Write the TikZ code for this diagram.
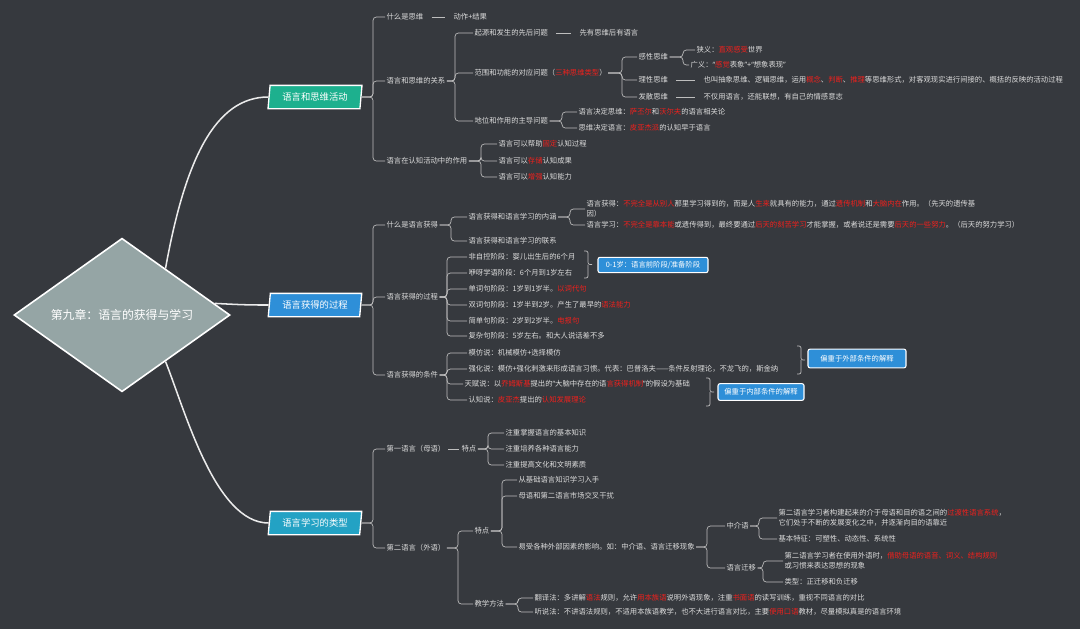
\documentclass[tikz,border=0pt]{standalone}
\usepackage{fontspec}
\setmainfont{Noto Sans CJK SC}
\newfontfamily\latinq{Noto Sans}
\usetikzlibrary{shapes.geometric,calc}
\definecolor{bgc}{HTML}{36393E}
\definecolor{txtc}{HTML}{DCDCDC}
\definecolor{linec}{HTML}{BEBEBE}
\definecolor{hlred}{HTML}{F0201C}
\definecolor{teal1}{HTML}{1DB08E}
\definecolor{blue1}{HTML}{2E8FD8}
\definecolor{cyan1}{HTML}{23A2C4}
\definecolor{dia}{HTML}{95A5A5}
\newcommand\redt[1]{\textcolor{hlred}{#1}}
\newcommand\qo{{\latinq “}}
\newcommand\qc{{\latinq ”}}
\newcommand\brr[3]{\draw[br] (#1.east) -- (#1.east -| #3,0) |- (#2.west);}
\tikzset{
  txt/.style={anchor=west, text=txtc, font=\fontsize{5.5}{7.5}\selectfont, inner xsep=1pt, inner ysep=1pt, align=left},
  br/.style={draw=linec, line width=0.5pt, rounded corners=2.5pt},
  sepline/.style={draw=linec, line width=0.5pt, shorten <=5pt, shorten >=5pt},
  trunk/.style={draw=white!92!black, line width=1.15pt},
  mbox/.style={trapezium, trapezium left angle=80, trapezium right angle=100, trapezium stretches=true,
    minimum width=70.5pt, minimum height=17.5pt, draw=white, line width=1pt, text=white,
    font=\fontsize{7}{8}\selectfont, inner sep=0pt},
  diam/.style={diamond, draw=white, line width=1.2pt, fill=dia, minimum width=162pt, minimum height=91.5pt,
    inner sep=0pt, text=white, font=\fontsize{8.9}{10}\selectfont},
  tag/.style={draw=white, line width=0.8pt, fill=blue1, rounded corners=1.5pt, text=white,
    font=\fontsize{5.5}{6}\selectfont, inner sep=0pt},
}
\begin{document}
\begin{tikzpicture}[x=0.75pt,y=-0.75pt]
\fill[bgc] (0,0) rectangle (1080,629);
\useasboundingbox (0,0) rectangle (1080,629);

% central and main nodes
\node[diam] (d) at (122,315) {第九章：语言的获得与学习};
\node[mbox, fill=teal1] (b1) at (315,97) {语言和思维活动};
\node[mbox, fill=blue1] (b2) at (315,305) {语言获得的过程};
\node[mbox, fill=cyan1] (b3) at (315,523) {语言学习的类型};

\draw[trunk] ($(d.north)!0.4!(d.east)$) .. controls (185,160) and (215,97) .. (b1.west);
\draw[trunk] ($(d.north)!0.85!(d.east)$) .. controls (245,305) and (252,305) .. (b2.west);
\draw[trunk] ($(d.south)!0.4!(d.east)$) .. controls (185,410) and (215,523) .. (b3.west);

% ===== branch 1
\node[txt] (a1) at (385,17) {什么是思维};
\node[txt] (a1x) at (452,17) {动作+结果};
\node[txt] (a2) at (385,81) {语言和思维的关系};
\node[txt] (a21) at (473,33) {起源和发生的先后问题};
\node[txt] (a21x) at (578,33) {先有思维后有语言};
\node[txt] (a22) at (473,73) {范围和功能的对应问题（\redt{三种思维类型}）};
\node[txt] (a221) at (637,57) {感性思维};
\node[txt] (a2211) at (695,50) {狭义：\redt{直观感受}世界};
\node[txt] (a2212) at (689,65) {广义：\qo\redt{感觉}表象\qc+\qo 想象表现\qc};
\node[txt] (a222) at (637,80) {理性思维};
\node[txt] (a222x) at (702,80) {也叫抽象思维、逻辑思维，运用\redt{概念}、\redt{判断}、\redt{推理}等思维形式，对客观现实进行间接的、概括的反映的活动过程};
\node[txt] (a223) at (637,97) {发散思维};
\node[txt] (a223x) at (702,97) {不仅用语言，还能联想，有自己的情感意志};
\node[txt] (a23) at (473,121) {地位和作用的主导问题};
\node[txt] (a231) at (577,112) {语言决定思维：\redt{萨丕尔}和\redt{沃尔夫}的语言相关论};
\node[txt] (a232) at (577,128) {思维决定语言：\redt{皮亚杰派}的认知早于语言};
\node[txt] (a3) at (385,161) {语言在认知活动中的作用};
\node[txt] (a31) at (497,144) {语言可以帮助\redt{固定}认知过程};
\node[txt] (a32) at (497,161) {语言可以\redt{存储}认知成果};
\node[txt] (a33) at (497,177) {语言可以\redt{增强}认知能力};

\brr{b1}{a1}{373} \brr{b1}{a2}{373} \brr{b1}{a3}{373}
\draw[sepline] (a1.east) -- (a1x.west);
\brr{a2}{a21}{455} \brr{a2}{a22}{455} \brr{a2}{a23}{455}
\draw[sepline] (a21.east) -- (a21x.west);
\brr{a22}{a221}{622} \brr{a22}{a222}{622} \brr{a22}{a223}{622}
\brr{a221}{a2211}{683} \brr{a221}{a2212}{683}
\draw[sepline] (a222.east) -- (a222x.west);
\draw[sepline] (a223.east) -- (a223x.west);
\brr{a23}{a231}{562} \brr{a23}{a232}{562}
\brr{a3}{a31}{481} \brr{a3}{a32}{481} \brr{a3}{a33}{481}

% ===== branch 2
\node[txt] (c1) at (385,225) {什么是语言获得};
\node[txt] (c11) at (467,217) {语言获得和语言学习的内涵};
\node[txt] (c111) at (585,209) {语言获得：\redt{不完全是从别人}那里学习得到的，而是人\redt{生来}就具有的能力，通过\redt{遗传机制}和\redt{大脑内在}作用。（先天的遗传基\\因）};
\node[txt] (c112) at (585,225) {语言学习：\redt{不完全是靠本能}或遗传得到，最终要通过\redt{后天的刻苦学习}才能掌握，或者说还是需要\redt{后天的一些努力}。（后天的努力学习）};
\node[txt] (c12) at (467,241) {语言获得和语言学习的联系};
\node[txt] (c2) at (385,297) {语言获得的过程};
\node[txt] (c21) at (467,257) {非自控阶段：婴儿出生后的6个月};
\node[txt] (c22) at (467,273) {咿呀学语阶段：6个月到1岁左右};
\node[txt] (c23) at (467,289) {单词句阶段：1岁到1岁半。\redt{以词代句}};
\node[txt] (c24) at (467,305) {双词句阶段：1岁半到2岁。产生了最早的\redt{语法能力}};
\node[txt] (c25) at (467,321) {简单句阶段：2岁到2岁半。\redt{电报句}};
\node[txt] (c26) at (467,336) {复杂句阶段：5岁左右。和大人说话差不多};
\node[txt] (c3) at (385,375) {语言获得的条件};
\node[txt] (c31) at (467,353) {模仿说：机械模仿+选择模仿};
\node[txt] (c32) at (467,369) {强化说：模仿+强化刺激来形成语言习惯。代表：巴普洛夫——条件反射理论，不龙飞的，斯金纳};
\node[txt] (c33) at (463,384) {天赋说：以\redt{乔姆斯基}提出的\qo 大脑中存在的语\redt{言获得机制}\qc 的假设为基础};
\node[txt] (c34) at (467,400) {认知说：\redt{皮亚杰}提出的\redt{认知发展理论}};

\brr{b2}{c1}{373} \brr{b2}{c2}{373} \brr{b2}{c3}{373}
\brr{c1}{c11}{451} \brr{c1}{c12}{451}
\brr{c11}{c111}{570} \brr{c11}{c112}{570}
\foreach \n in {c21,c22,c23,c24,c25,c26} {\brr{c2}{\n}{447}}
\foreach \n in {c31,c32,c33,c34} {\brr{c3}{\n}{447}}

% tags with brackets
\node[tag, minimum width=82.5pt, minimum height=11.5pt] (k1) at (653,265) {0-1岁：语言前阶段/准备阶段};
\node[tag, minimum width=73.5pt, minimum height=14pt] (k2) at (857,358.5) {偏重于外部条件的解释};
\node[tag, minimum width=64.5pt, minimum height=12.5pt] (k3) at (761,392) {偏重于内部条件的解释};
\coordinate (k1t) at (592,264.5);
\coordinate (k2t) at (805,360);
\coordinate (k3t) at (714,392);
\draw[br, rounded corners=1.5pt] (584,251) -- (588,251) -- (588,264.5) -- (k1t);
\draw[br, rounded corners=1.5pt] (584,278) -- (588,278) -- (588,264.5);
\draw[br, rounded corners=1.5pt] (797,346) -- (801,346) -- (801,360) -- (k2t);
\draw[br, rounded corners=1.5pt] (797,374) -- (801,374) -- (801,360);
\draw[br, rounded corners=1.5pt] (706,378) -- (710,378) -- (710,392) -- (k3t);
\draw[br, rounded corners=1.5pt] (706,406) -- (710,406) -- (710,392);

% ===== branch 3
\node[txt] (e1) at (385,449) {第一语言（母语）};
\node[txt] (e1x) at (460,449) {特点};
\node[txt] (e11) at (504,433) {注重掌握语言的基本知识};
\node[txt] (e12) at (504,449) {注重培养各种语言能力};
\node[txt] (e13) at (504,465) {注重提高文化和文明素质};
\node[txt] (e2) at (385,548) {第二语言（外语）};
\node[txt] (e21) at (473,531) {特点};
\node[txt] (e211) at (517,480) {从基础语言知识学习入手};
\node[txt] (e212) at (517,496) {母语和第二语言市场交叉干扰};
\node[txt] (e213) at (517,547) {易受各种外部因素的影响。如：中介语、语言迁移现象};
\node[txt] (e2131) at (725,526) {中介语};
\node[txt] (f1) at (777,518) {第二语言学习者构建起来的介于母语和目的语之间的\redt{过渡性语言系统}，\\它们处于不断的发展变化之中，并逐渐向目的语靠近};
\node[txt] (f2) at (777,539) {基本特征：可塑性、动态性、系统性};
\node[txt] (e2132) at (725,568) {语言迁移};
\node[txt] (g1) at (783,561) {第二语言学习者在使用外语时，\redt{借助母语的语音、词义、结构规则}\\或习惯来表达思想的现象};
\node[txt] (g2) at (783,582) {类型：正迁移和负迁移};
\node[txt] (e22) at (473,604) {教学方法};
\node[txt] (e221) at (533,598) {翻译法：多讲解\redt{语法}规则，允许\redt{用本族语}说明外语现象，注重\redt{书面语}的读写训练，重视不同语言的对比};
\node[txt] (e222) at (533,612) {听说法：不讲语法规则，不适用本族语教学，也不大进行语言对比，主要\redt{使用口语}教材，尽量模拟真是的语言环境};

\brr{b3}{e1}{373} \brr{b3}{e2}{373}
\draw[sepline, shorten <=1pt, shorten >=1pt] (e1.east) -- (e1x.west);
\brr{e1x}{e11}{488} \brr{e1x}{e12}{488} \brr{e1x}{e13}{488}
\brr{e2}{e21}{458} \brr{e2}{e22}{458}
\brr{e21}{e211}{502} \brr{e21}{e212}{502} \brr{e21}{e213}{502}
\brr{e213}{e2131}{707} \brr{e213}{e2132}{707}
\brr{e2131}{f1}{759} \brr{e2131}{f2}{759}
\brr{e2132}{g1}{763} \brr{e2132}{g2}{763}
\brr{e22}{e221}{518} \brr{e22}{e222}{518}
\end{tikzpicture}
\end{document}
